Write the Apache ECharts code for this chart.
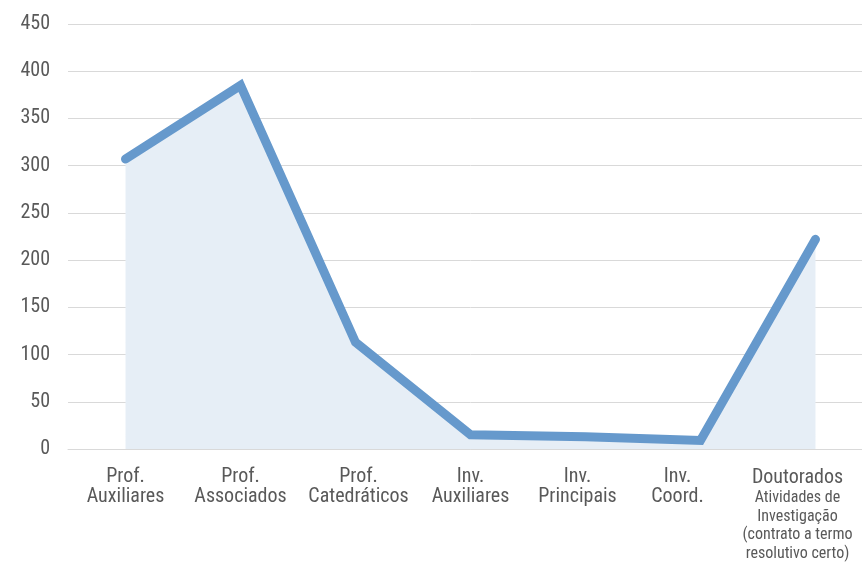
<!DOCTYPE html>
<html><head><meta charset="utf-8">
<script src="https://cdn.jsdelivr.net/npm/echarts@6/dist/echarts.min.js"></script>
<style>html,body{margin:0;padding:0;background:#fff;overflow:hidden;width:862px;height:565px}#c{width:873px;height:565px}</style>
</head><body><div id="c"></div>
<script>
const categories = ['Prof.\nAuxiliares','Prof.\nAssociados','Prof.\nCatedráticos','Inv.\nAuxiliares','Inv.\nPrincipais','Inv.\nCoord.','Doutorados'];
const values = [307, 385, 113, 15, 13, 9, 222];
const yTicks = {min: 0, max: 450, interval: 50};
const lastSub = 'Atividades de\nInvestigação\n(contrato a termo\nresolutivo certo)';

const FONT = "'Roboto Condensed','Liberation Sans',sans-serif";
// horizontal nudge of some labels (px, negative = left), as in the original layout
const labelNudge = {'Prof.\nCatedráticos': 3, 'Inv.\nPrincipais': -8, 'Inv.\nCoord.': -23, 'Doutorados': -18};
const catData = categories.map(c => {
  const n = labelNudge[c] || 0;
  return n ? {value: c, textStyle: {padding: n < 0 ? [0, -2*n, 0, 0] : [0, 0, 0, 2*n]}} : c;
});

const chart = echarts.init(document.getElementById('c'), null, {renderer:'canvas'});
chart.setOption({
  animation: false,
  grid: {left: 68, top: 24, right: 0, bottom: 116, containLabel: false, outerBoundsMode: 'none'},
  xAxis: {
    type: 'category', data: catData, boundaryGap: true,
    axisLine: {show: true, lineStyle: {color: '#D9D9D9', width: 1}},
    axisTick: {show: false},
    axisLabel: {
      color: '#595959', fontFamily: FONT, fontSize: 20, lineHeight: 20, margin: 18, interval: 0,
      formatter: function(v){
        if (v === 'Doutorados') {
          return '{a|Doutorados}\n' + lastSub.split('\n').map(s => '{b|' + s + '}').join('\n');
        }
        return v;
      },
      rich: {
        a: {color: '#595959', fontFamily: FONT, fontSize: 20, lineHeight: 22},
        b: {color: '#595959', fontFamily: FONT, fontSize: 16, lineHeight: 18.5}
      }
    }
  },
  yAxis: {
    type: 'value', min: yTicks.min, max: yTicks.max, interval: yTicks.interval,
    axisLine: {show: false}, axisTick: {show: false},
    splitLine: {lineStyle: {color: '#D9D9D9', width: 1}},
    axisLabel: {color: '#595959', fontFamily: FONT, fontSize: 20, margin: 18}
  },
  series: [{
    type: 'line', data: values, symbol: 'none',
    lineStyle: {color: '#6699CC', width: 9, cap: 'round', join: 'miter'},
    areaStyle: {color: '#E6EEF6', opacity: 1},
    z: 3
  }]
});
</script>
</body></html>
